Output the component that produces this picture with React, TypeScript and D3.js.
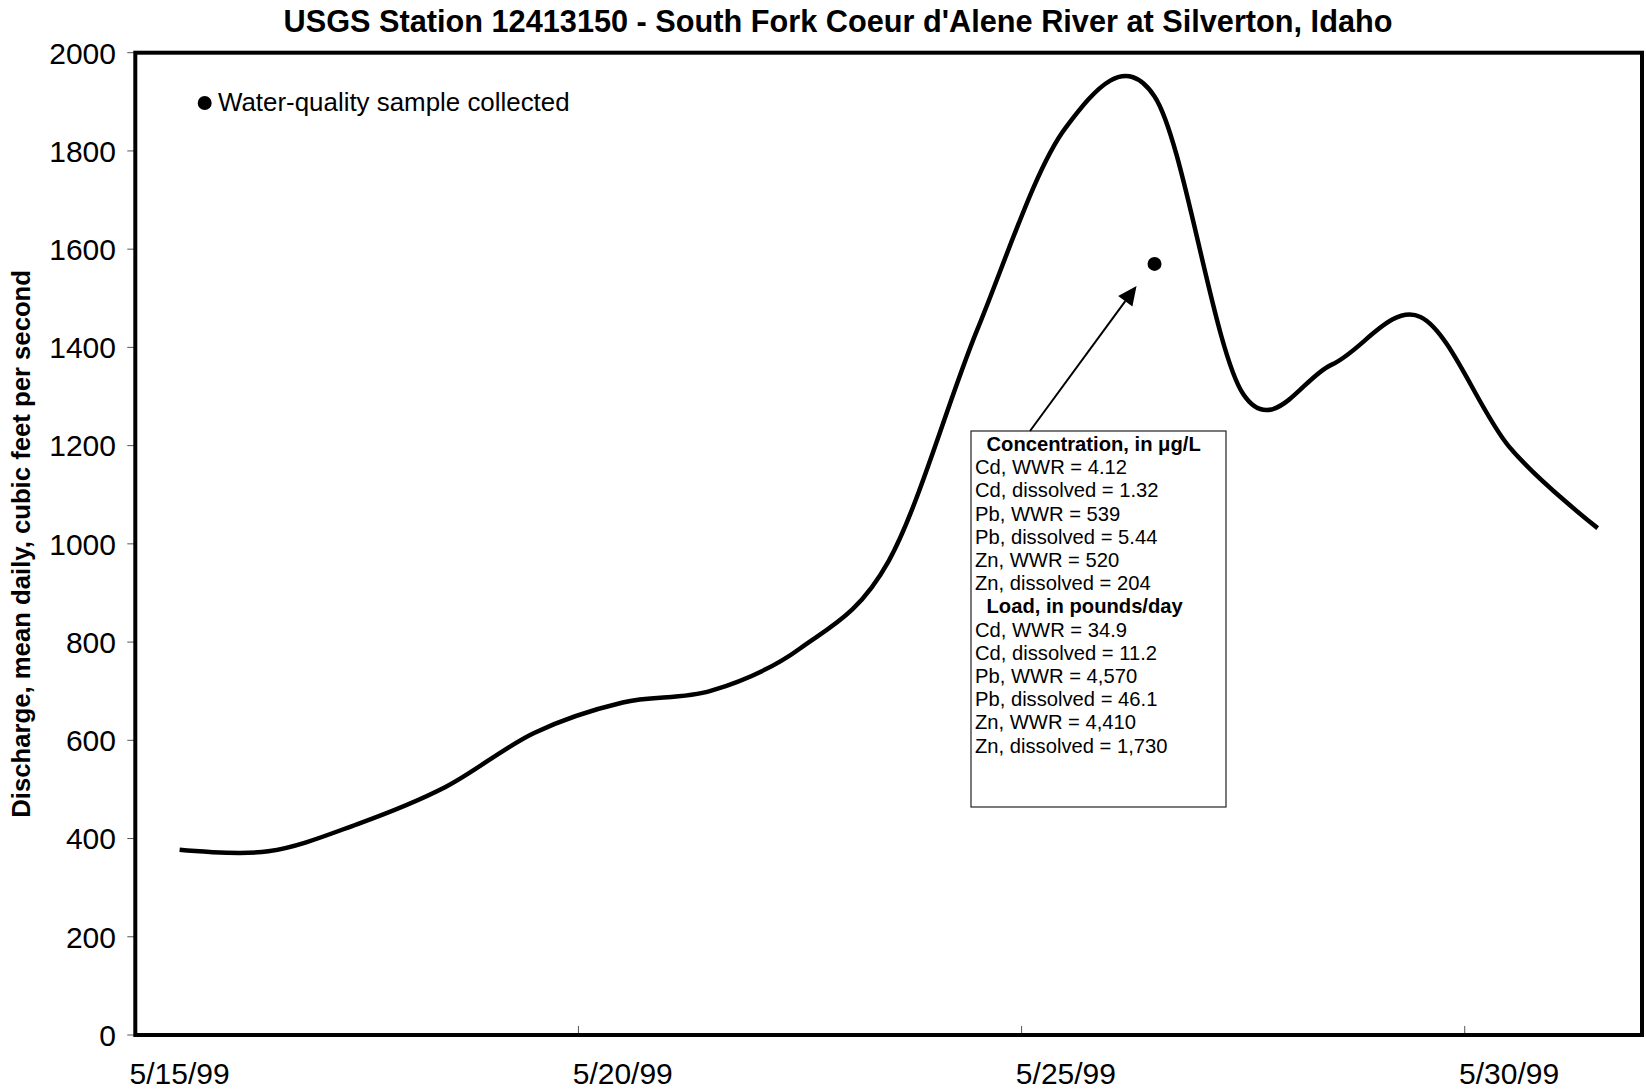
import React from "react";
import * as d3 from "d3";

const titleText = "USGS Station 12413150 - South Fork Coeur d'Alene River at Silverton, Idaho";
const yAxisTitle = "Discharge, mean daily, cubic feet per second";
const legendText = "Water-quality sample collected";

const dates = [
  "1999-05-15", "1999-05-16", "1999-05-17", "1999-05-18", "1999-05-19", "1999-05-20",
  "1999-05-21", "1999-05-22", "1999-05-23", "1999-05-24", "1999-05-25", "1999-05-26",
  "1999-05-27", "1999-05-28", "1999-05-29", "1999-05-30", "1999-05-31",
];
const discharge = [377, 374, 429, 505, 615, 677, 701, 787, 965, 1436, 1848, 1911, 1305, 1365, 1462, 1198, 1032];

const sampleDate = "1999-05-26";
const sampleDischarge = 1570;

const yTicks = [0, 200, 400, 600, 800, 1000, 1200, 1400, 1600, 1800, 2000];
const xTickDates = ["1999-05-15", "1999-05-20", "1999-05-25", "1999-05-30"];
const xTickLabels = ["5/15/99", "5/20/99", "5/25/99", "5/30/99"];
const xDomain = ["1999-05-15", "1999-06-01"];

const concentrationHeader = "Concentration, in \u03BCg/L";
const concentrationLines = [
  "Cd, WWR = 4.12",
  "Cd, dissolved = 1.32",
  "Pb, WWR = 539",
  "Pb, dissolved = 5.44",
  "Zn, WWR = 520",
  "Zn, dissolved = 204",
];
const loadHeader = "Load, in pounds/day";
const loadLines = [
  "Cd, WWR = 34.9",
  "Cd, dissolved = 11.2",
  "Pb, WWR = 4,570",
  "Pb, dissolved = 46.1",
  "Zn, WWR = 4,410",
  "Zn, dissolved = 1,730",
];

const W = 1646;
const H = 1089;
const PL = 135.3, PR = 1642, PT = 52.7, PB = 1035;
const FONT = "'Liberation Sans', Arial, Helvetica, sans-serif";

export default function App() {
  const parse = (s: string) => new Date(s + "T00:00:00Z");
  const x = d3.scaleUtc().domain(xDomain.map(parse)).range([PL, PR]);
  const y = d3.scaleLinear().domain([0, 2000]).range([PB, PT]);
  const mid = (s: string) => x(d3.utcHour.offset(parse(s), 12));

  const pts: [number, number][] = dates.map((d, i) => [mid(d), y(discharge[i])]);
  const line = d3.line().curve(d3.curveCardinal.tension(0))(pts) || "";

  const dotX = mid(sampleDate);
  const dotY = y(sampleDischarge);

  // annotation box
  const boxX = 971, boxY = 431, boxW = 255, boxH = 376;
  const lineStep = 23.2;
  const firstBase = 451;
  const textRows: { t: string; bold: boolean }[] = [
    { t: concentrationHeader, bold: true },
    ...concentrationLines.map((t) => ({ t, bold: false })),
    { t: loadHeader, bold: true },
    ...loadLines.map((t) => ({ t, bold: false })),
  ];

  // arrow from box top to near the sample dot
  const ax0 = 1030, ay0 = boxY;
  const ax1 = dotX - 18, ay1 = dotY + 22;
  const dx = ax1 - ax0, dy = ay1 - ay0;
  const len = Math.hypot(dx, dy);
  const ux = dx / len, uy = dy / len;
  const headL = 19, headW = 8.8;
  const bx = ax1 - ux * headL, by = ay1 - uy * headL;
  const px = -uy, py = ux;
  const head = `M${ax1},${ay1}L${bx + px * headW},${by + py * headW}L${bx - px * headW},${by - py * headW}Z`;

  return (
    <svg
      width={W}
      height={H}
      viewBox={`0 0 ${W} ${H}`}
      style={{ position: "absolute", left: 0, top: 0, background: "#fff" }}
      fontFamily={FONT}
    >
      <rect x={0} y={0} width={W} height={H} fill="#fff" />
      <text x={838} y={31.5} textAnchor="middle" fontSize={30.7} fontWeight="bold" fill="#000">
        {titleText}
      </text>

      {/* y ticks */}
      {yTicks.map((v) => (
        <g key={v}>
          <line x1={PL - 8} x2={PL} y1={y(v)} y2={y(v)} stroke="#555" strokeWidth={1} />
          <text x={116} y={y(v)} dy="0.36em" textAnchor="end" fontSize={30} fill="#000">
            {v}
          </text>
        </g>
      ))}

      {/* x ticks */}
      {xTickDates.map((d, i) => (
        <g key={d}>
          <line x1={x(parse(d))} x2={x(parse(d))} y1={PB} y2={PB - 9} stroke="#555" strokeWidth={1} />
          <text x={mid(d)} y={1084} textAnchor="middle" fontSize={30} fill="#000">
            {xTickLabels[i]}
          </text>
        </g>
      ))}

      <text
        transform={`translate(30, ${(PT + PB) / 2}) rotate(-90)`}
        textAnchor="middle"
        fontSize={25.7}
        fontWeight="bold"
        fill="#000"
      >
        {yAxisTitle}
      </text>

      {/* plot frame */}
      <rect x={PL} y={PT} width={PR - PL} height={PB - PT} fill="none" stroke="#000" strokeWidth={4} />

      {/* discharge line */}
      <path d={line} fill="none" stroke="#000" strokeWidth={4.5} strokeLinejoin="round" />

      {/* sample dot */}
      <circle cx={dotX} cy={dotY} r={7} fill="#000" />

      {/* legend */}
      <circle cx={204.7} cy={103} r={7} fill="#000" />
      <text x={218} y={111} fontSize={25.9} fill="#000">
        {legendText}
      </text>

      {/* annotation box */}
      <rect x={boxX} y={boxY} width={boxW} height={boxH} fill="#fff" stroke="#222" strokeWidth={1.2} />
      {textRows.map((r, i) => (
        <text
          key={i}
          x={r.bold ? 986.5 : 975}
          y={firstBase + i * lineStep}
          fontSize={20.2}
          fontWeight={r.bold ? "bold" : "normal"}
          fill="#000"
        >
          {r.t}
        </text>
      ))}

      {/* arrow */}
      <line x1={ax0} y1={ay0} x2={bx} y2={by} stroke="#000" strokeWidth={2} />
      <path d={head} fill="#000" />
    </svg>
  );
}
